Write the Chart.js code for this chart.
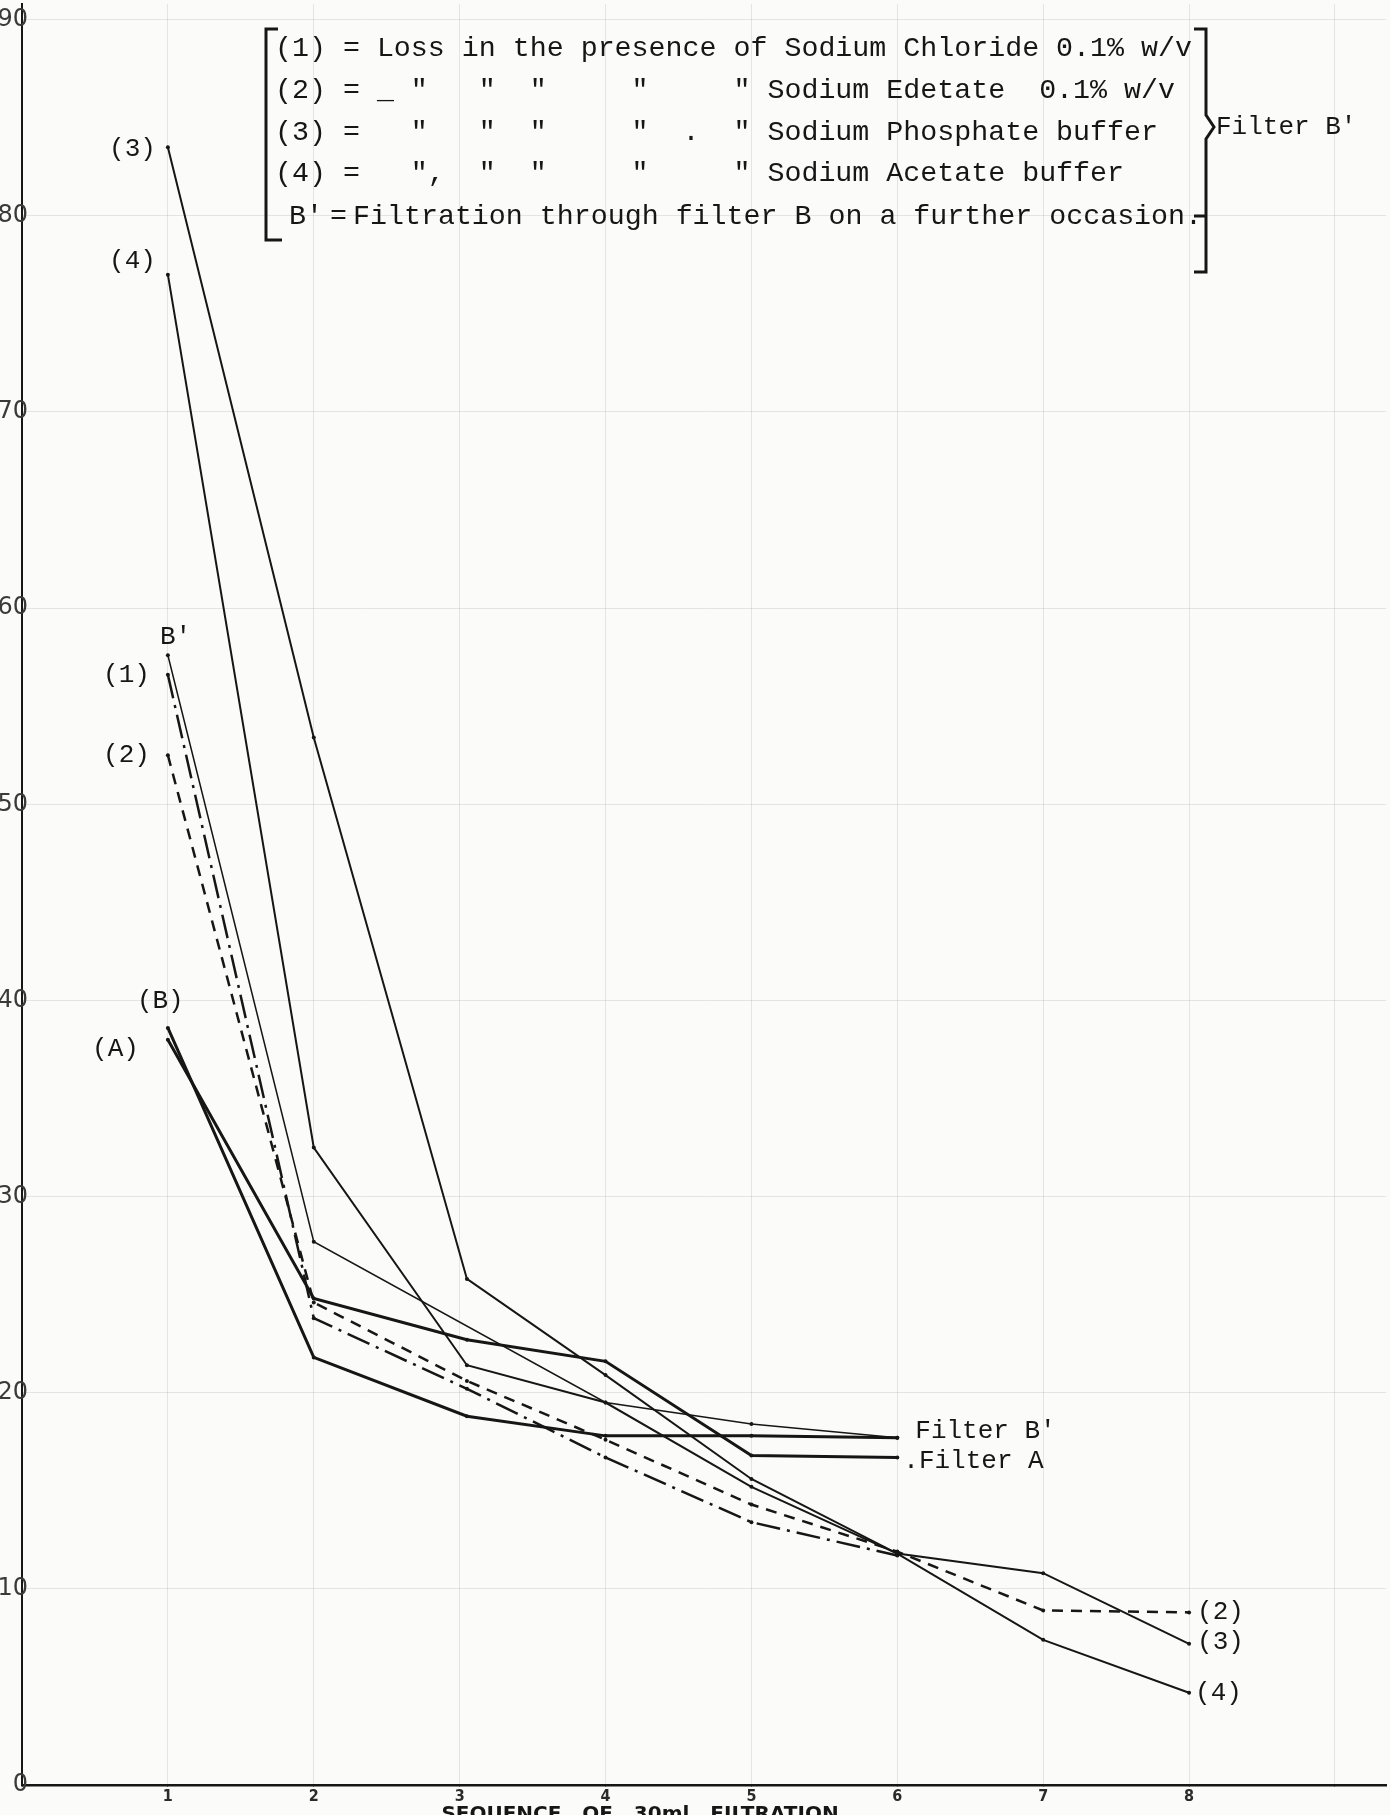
<!DOCTYPE html>
<html>
<head>
<meta charset="utf-8">
<script src="https://cdn.jsdelivr.net/npm/chart.js@4.4.0/dist/chart.umd.min.js"></script>
<style>
  html, body { margin: 0; padding: 0; background: #fbfbf9; }
  #wrap { width: 1390px; height: 1815px; position: relative; }
</style>
</head>
<body>
<div id="wrap"><canvas id="graficoPerdida"></canvas></div>
<script>
// filtration runs (x) and loss values
const runs = [1, 2, 3.05, 4, 5, 6, 7, 8];
const lossB = [38.6, 21.8, 18.8, 17.8, 17.8, 17.7, null, null];
const lossA = [38.0, 24.8, 22.7, 21.6, 16.8, 16.7, null, null];
const lossBprime = [57.6, 27.7, null, 19.5, 18.4, 17.7, null, null];
const loss1 = [56.6, 23.8, 20.2, 16.7, 13.4, 11.7, null, null];
const loss2 = [52.5, 24.6, 20.6, 17.6, 14.3, 11.9, 8.9, 8.8];
const loss3 = [83.5, 53.4, 25.8, 20.9, 15.6, 11.8, 10.8, 7.2];
const loss4 = [77.0, 32.5, 21.4, 19.5, 15.2, 11.8, 7.4, 4.7];

const xTicks = [1, 2, 3, 4, 5, 6, 7, 8];
const legendRows = [
  '(1) = Loss in the presence of Sodium Chloride 0.1% w/v',
  '(2) = _ "   "  "     "     " Sodium Edetate  0.1% w/v',
  '(3) =   "   "  "     "  .  " Sodium Phosphate buffer',
  '(4) =   ",  "  "     "     " Sodium Acetate buffer'
];
const legendLast = ["B'", '=', 'Filtration through filter B on a further occasion.'];

const TYPE = '"Liberation Mono", "DejaVu Sans Mono", monospace';
const INK = '#161616';

const pts = vals => runs.map((r, i) => ({ x: r, y: vals[i] }));

function serie(vals, width, dash) {
  return {
    data: pts(vals),
    borderColor: INK,
    backgroundColor: INK,
    borderWidth: width,
    borderDash: dash || [],
    pointRadius: 2,
    pointBorderWidth: 0,
    tension: 0,
    spanGaps: true
  };
}

const notas = {
  id: 'notas',
  beforeDraw(chart) {
    const ctx = chart.ctx;
    ctx.save();
    ctx.fillStyle = '#fbfbf9';
    ctx.fillRect(0, 0, chart.width, chart.height);
    ctx.restore();
  },
  afterDraw(chart) {
    const ctx = chart.ctx;
    const sy = chart.scales.y;
    const X = v => chart.scales.x.getPixelForValue(v);
    const Y = v => sy.getPixelForValue(v);
    const x1 = X(runs[0]);
    ctx.save();
    ctx.fillStyle = INK;
    ctx.strokeStyle = INK;
    ctx.textBaseline = 'middle';

    // y tick labels, straddling the axis and cut by the page edge
    ctx.font = '24px "DejaVu Sans"';
    ctx.fillStyle = '#3a3a3a';
    ctx.textAlign = 'right';
    sy.ticks.forEach(t => ctx.fillText(String(t.value), 28, Y(t.value)));
    ctx.fillStyle = INK;

    // labels at the start of each curve
    ctx.font = '26px ' + TYPE;
    ctx.fillText('(3)', x1 - 12, Y(loss3[0]) + 2);
    ctx.fillText('(4)', x1 - 12, Y(loss4[0]) - 14);
    ctx.fillText('(1)', x1 - 18, Y(loss1[0]));
    ctx.fillText('(2)', x1 - 18, Y(loss2[0]));
    ctx.fillText('(A)', x1 - 29, Y(lossA[0]) + 9);
    ctx.textAlign = 'left';
    ctx.fillText("B'", x1 - 8, Y(lossBprime[0]) - 18);
    ctx.fillText('(B)', x1 - 31, Y(lossB[0]) - 27);

    // labels at the end of curves
    const x6 = X(runs[5]);
    ctx.fillText("Filter B'", x6 + 18, Y(lossBprime[5]) - 7);
    ctx.fillText('.Filter A', x6 + 6, Y(lossA[5]) + 4);
    const x8 = X(runs[7]);
    ctx.fillText('(2)', x8 + 8, Y(loss2[7]));
    ctx.fillText('(3)', x8 + 8, Y(loss3[7]) - 2);
    ctx.fillText('(4)', x8 + 6, Y(loss4[7]));

    // key box
    ctx.font = '28.3px ' + TYPE;
    const rowY = [49, 91, 133, 174, 217];
    legendRows.forEach((t, i) => ctx.fillText(t, 275, rowY[i]));
    ctx.fillText(legendLast[0], 289, rowY[4]);
    ctx.fillText(legendLast[1], 330, rowY[4]);
    ctx.fillText(legendLast[2], 353, rowY[4]);

    ctx.lineWidth = 3;
    ctx.beginPath();
    ctx.moveTo(278, 29); ctx.lineTo(266, 29); ctx.lineTo(266, 240); ctx.lineTo(282, 240);
    ctx.stroke();
    ctx.beginPath();
    ctx.moveTo(1194, 29); ctx.lineTo(1206, 29); ctx.lineTo(1206, 115);
    ctx.lineTo(1214, 127); ctx.lineTo(1206, 139); ctx.lineTo(1206, 272); ctx.lineTo(1194, 272);
    ctx.moveTo(1194, 216); ctx.lineTo(1206, 216);
    ctx.stroke();
    ctx.font = '26px ' + TYPE;
    ctx.fillText("Filter B'", 1216, 127);

    // axis title, cut by the bottom edge as in the scan
    ctx.font = 'bold 20px "DejaVu Sans"';
    ctx.textAlign = 'center';
    ctx.textBaseline = 'top';
    ctx.fillText('SEQUENCE   OF   30ml   FILTRATION', 640, 1805);
    ctx.restore();
  }
};

const ctx = document.getElementById('graficoPerdida').getContext('2d');
new Chart(ctx, {
  type: 'line',
  data: {
    datasets: [
      serie(loss3, 2),
      serie(loss4, 2),
      serie(lossBprime, 1.5),
      serie(loss1, 2.5, [24, 7, 3, 7]),
      serie(loss2, 2.5, [11, 8]),
      serie(lossB, 3),
      serie(lossA, 3)
    ]
  },
  options: {
    responsive: true,
    maintainAspectRatio: false,
    animation: false,
    layout: { padding: 0 },
    plugins: {
      legend: { display: false },
      title: { display: false },
      tooltip: { enabled: false }
    },
    scales: {
      x: {
        type: 'linear',
        min: 0,
        max: 9.35,
        afterFit: s => { s.height = 30; },
        border: { color: INK, width: 2.5 },
        grid: {
          color: 'rgba(0,0,0,0.09)',
          tickColor: INK,
          tickLength: 2,
          drawOnChartArea: true
        },
        ticks: {
          stepSize: 1,
          includeBounds: false,
          padding: 0,
          color: '#2a2a2a',
          font: { family: '"DejaVu Sans Condensed", "DejaVu Sans"', size: 16, weight: '600' },
          callback: v => (xTicks.includes(v) ? v : '')
        }
      },
      y: {
        min: 0,
        max: 90.8,
        afterFit: s => { s.width = 22; },
        border: { color: INK, width: 2 },
        grid: {
          color: 'rgba(0,0,0,0.09)',
          drawTicks: false
        },
        ticks: {
          stepSize: 10,
          includeBounds: false,
          display: false
        }
      }
    }
  },
  plugins: [notas]
});
</script>
</body>
</html>
